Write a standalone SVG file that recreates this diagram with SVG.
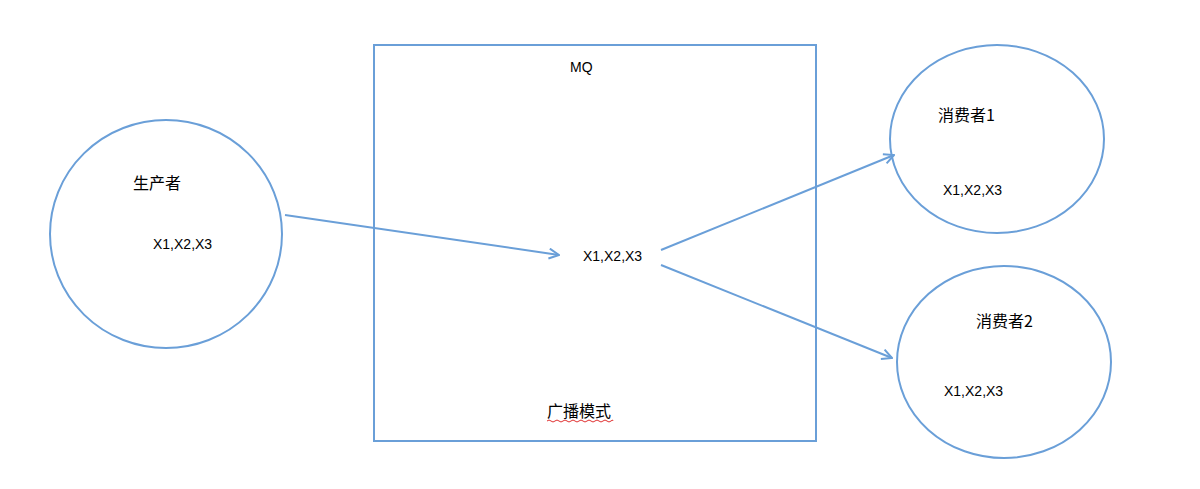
<svg xmlns="http://www.w3.org/2000/svg" width="1200" height="489" viewBox="0 0 1200 489">
<style>
.shape{fill:none;stroke:#6a9fd8;stroke-width:2}
.conn{fill:none;stroke:#6a9fd8;stroke-width:2;marker-end:url(#arr)}
.t{font-family:"Liberation Sans","Noto Sans CJK SC",sans-serif;font-size:14px;fill:#000}
.c{font-family:"Noto Sans CJK SC","Liberation Sans",sans-serif;font-size:16px;fill:#000}
</style>
<defs>
<marker id="arr" viewBox="0 0 12 12" refX="11" refY="6" markerWidth="12" markerHeight="12" markerUnits="userSpaceOnUse" orient="auto">
<path d="M1,1 L11,6 L1,11" fill="none" stroke="#6a9fd8" stroke-width="2"/>
</marker>
</defs>
<rect width="1200" height="489" fill="#fff"/>
<g id="producer">
<ellipse class="shape" cx="166" cy="234" rx="116" ry="114"/>
<text class="c" x="133" y="189">生产者</text>
<text class="t" x="153" y="249">X1,X2,X3</text>
</g>
<g id="mq">
<rect class="shape" x="374" y="45" width="442" height="396"/>
<text class="t" x="570" y="72">MQ</text>
<text class="t" x="583" y="261">X1,X2,X3</text>
<text class="c" x="547" y="417">广播模式</text>
<path d="M547,421 q2,-2 4,0 t4,0 t4,0 t4,0 t4,0 t4,0 t4,0 t4,0 t4,0 t4,0 t4,0 t4,0 t4,0 t4,0 t4,0 t4,0 t2,0" fill="none" stroke="#e03030" stroke-width="1"/>
</g>
<g id="consumer1">
<ellipse class="shape" cx="997" cy="139" rx="107" ry="94"/>
<text class="c" x="938" y="121">消费者1</text>
<text class="t" x="943" y="195">X1,X2,X3</text>
</g>
<g id="consumer2">
<ellipse class="shape" cx="1004" cy="362" rx="107" ry="96"/>
<text class="c" x="976" y="327">消费者2</text>
<text class="t" x="944" y="396">X1,X2,X3</text>
</g>
<g id="connectors">
<line class="conn" x1="285" y1="215" x2="559" y2="255"/>
<line class="conn" x1="661" y1="250" x2="894" y2="155"/>
<line class="conn" x1="661" y1="265" x2="892" y2="358"/>
</g>
</svg>
